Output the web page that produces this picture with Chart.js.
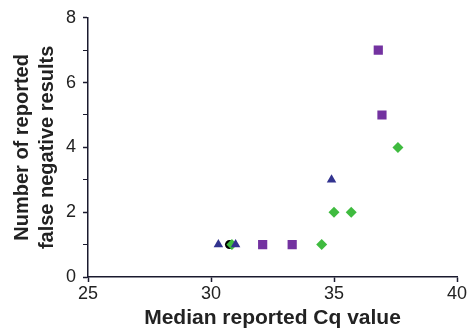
<!DOCTYPE html>
<html>
<head>
<meta charset="utf-8">
<script src="https://cdn.jsdelivr.net/npm/chart.js@4"></script>
<style>
  body { margin: 0; background: #fff; }
  #wrap { width: 470px; height: 331px; position: relative; }
</style>
</head>
<body>
<div id="wrap"><canvas id="cqChart" width="470" height="331"></canvas></div>
<script>
// values (x = median Cq, y = false negatives)
const triangleX = [30.3, 31.0, 34.9];
const triangleY = [1, 1, 3];
const diamondX = [30.85, 34.5, 35.0, 35.7, 37.6];
const diamondY = [1, 1, 2, 2, 4];
const squareX = [32.1, 33.3, 36.8, 36.95];
const squareY = [1, 1, 7, 5];
const circleX = [30.75];
const circleY = [1];

const xTicks = [25, 30, 35, 40];
const yTicks = [0, 2, 4, 6, 8];

function toPoints(xs, ys) {
    return xs.map((x, i) => ({ x: x, y: ys[i] }));
}

const axisColor = '#1a1a2e';
const textColor = '#222';
const fontFamily = '"Liberation Sans", Arial, sans-serif';

document.addEventListener('DOMContentLoaded', () => {
    const ctx = document.getElementById('cqChart').getContext('2d');
    new Chart(ctx, {
        type: 'scatter',
        data: {
            datasets: [
                { label: 'A', data: toPoints(triangleX, triangleY), pointStyle: 'triangle', pointRadius: 5.5, backgroundColor: '#32338f', borderWidth: 0 },
                { label: 'B', data: toPoints(diamondX, diamondY), pointStyle: 'rectRot', pointRadius: 5.5, backgroundColor: '#3fbb3f', borderWidth: 0 },
                { label: 'C', data: toPoints(squareX, squareY), pointStyle: 'rect', pointRadius: 6.5, backgroundColor: '#7332a0', borderWidth: 0 },
                { label: 'D', data: toPoints(circleX, circleY), pointStyle: 'circle', pointRadius: 4.5, backgroundColor: '#000', borderWidth: 0 }
            ]
        },
        options: {
            responsive: false,
            animation: false,
            layout: { padding: { top: 17, right: 13, left: 0, bottom: 0 } },
            plugins: { legend: { display: false }, tooltip: { enabled: false } },
            scales: {
                x: {
                    type: 'linear',
                    min: 25,
                    max: 40,
                    afterBuildTicks: (scale) => { scale.ticks = xTicks.map(v => ({ value: v })); },
                    ticks: { color: textColor, font: { family: fontFamily, size: 18 }, padding: 1, maxRotation: 0 },
                    grid: { drawOnChartArea: false, drawTicks: true, tickLength: 5, tickColor: axisColor, tickWidth: 1.5 },
                    border: { display: true, color: axisColor, width: 1.5 },
                    title: { display: true, text: 'Median reported Cq value', color: textColor, font: { family: fontFamily, size: 21, weight: 'bold' }, padding: { top: 0, bottom: 0 } },
                    afterFit: (scale) => { scale.height = 54; }
                },
                y: {
                    type: 'linear',
                    min: 0,
                    max: 8,
                    ticks: {
                        stepSize: 1,
                        color: textColor,
                        font: { family: fontFamily, size: 18 },
                        padding: 7,
                        callback: (v) => yTicks.includes(v) ? String(v) : ''
                    },
                    grid: {
                        drawOnChartArea: false,
                        tickLength: 5,
                        tickColor: axisColor,
                        tickWidth: (c) => (c.tick && yTicks.includes(c.tick.value)) ? 1.5 : 1
                    },
                    border: { display: true, color: axisColor, width: 1.5 },
                    title: {
                        display: true,
                        text: ['Number of reported', 'false negative results'],
                        color: textColor,
                        font: { family: fontFamily, size: 20, weight: 'bold', lineHeight: 1.25 },
                        padding: { top: 10, bottom: 4 }
                    },
                    afterFit: (scale) => { scale.width = 88; }
                }
            }
        }
    });
});
</script>
</body>
</html>
